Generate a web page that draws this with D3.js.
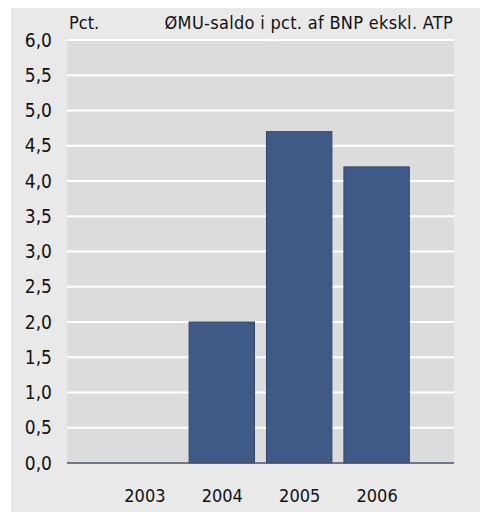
<!DOCTYPE html>
<html>
<head>
<meta charset="utf-8">
<script src="https://cdn.jsdelivr.net/npm/d3@7"></script>
<style>
  body { margin: 0; background: #fff; }
  svg text { font-family: "Liberation Sans Narrow", "DejaVu Sans Condensed", "Open Sans", sans-serif; fill: #111; }
</style>
</head>
<body>
<svg id="chart" width="480" height="512"></svg>
<script>
const years = ["2003", "2004", "2005", "2006"];
const saldo = [null, 2.0, 4.7, 4.2];
const yTicks = [0, 0.5, 1, 1.5, 2, 2.5, 3, 3.5, 4, 4.5, 5, 5.5, 6];
const unitLabel = "Pct.";
const titleLabel = "ØMU-saldo i pct. af BNP ekskl. ATP";

const MARGINS = {top: 40, right: 26, bottom: 49, left: 67};

let svg = d3.select("#chart");
let W = 480, H = 512;
let w = W - MARGINS.left - MARGINS.right,
    h = H - MARGINS.top - MARGINS.bottom;

// outer panel
svg.append("rect")
    .attr("x", 11).attr("y", 8)
    .attr("width", W - 11).attr("height", H - 8)
    .attr("fill", "#e9e9e9");

let g = svg.append("g")
    .attr("transform", `translate(${MARGINS.left},${MARGINS.top})`);

g.append("rect")
    .attr("width", w).attr("height", h)
    .attr("fill", "#dcdcdc");

let x = d3.scalePoint().domain(years).range([0, w]).padding(1);
let y = d3.scaleLinear().domain([0, 6]).range([h, 0]);
let barW = x.step() * 0.845;

// gridlines
g.selectAll("line.grid")
    .data(yTicks.filter(d => d > 0))
    .enter().append("line")
    .attr("class", "grid")
    .attr("x1", 0).attr("x2", w)
    .attr("y1", d => y(d)).attr("y2", d => y(d))
    .attr("stroke", "#fff").attr("stroke-width", 2);

// bars
let data = years.map((yr, i) => ({year: yr, value: saldo[i]})).filter(d => d.value != null);
g.selectAll("rect.bar")
    .data(data)
    .enter().append("rect")
    .attr("class", "bar")
    .attr("x", d => x(d.year) - barW / 2)
    .attr("width", barW)
    .attr("y", d => y(d.value))
    .attr("height", d => y(0) - y(d.value))
    .attr("fill", "#405a87")
    .attr("stroke", "#33466a")
    .attr("stroke-width", 1);

// zero line
g.append("line")
    .attr("x1", 0).attr("x2", w)
    .attr("y1", y(0)).attr("y2", y(0))
    .attr("stroke", "#4a5270").attr("stroke-width", 1.5);

// y axis labels
let yFmt = d => d3.format(".1f")(d).replace(".", ",");
let yAxis = d3.axisLeft(y).tickValues(yTicks).tickFormat(yFmt).tickSize(0).tickPadding(15);
let ya = g.append("g").call(yAxis);
ya.select(".domain").remove();
ya.selectAll("text").attr("font-size", 19).style("font-family", null);

// x axis labels
let xAxis = d3.axisBottom(x).tickSize(0).tickPadding(26);
let xa = g.append("g").attr("transform", `translate(0,${h})`).call(xAxis);
xa.select(".domain").remove();
xa.selectAll("text").attr("font-size", 18).style("font-family", null);

// header texts
svg.append("text")
    .attr("x", 69).attr("y", 29)
    .attr("font-size", 18)
    .text(unitLabel);
svg.append("text")
    .attr("x", 453).attr("y", 29)
    .attr("text-anchor", "end")
    .attr("font-size", 18)
    .attr("letter-spacing", 0.3)
    .text(titleLabel);
</script>
</body>
</html>
